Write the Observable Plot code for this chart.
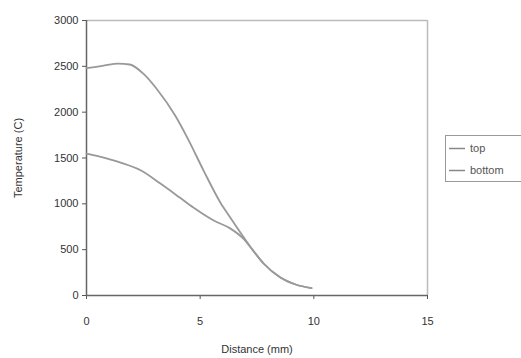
<!DOCTYPE html>
<html>
<head>
<meta charset="utf-8">
<script src="https://cdn.jsdelivr.net/npm/d3@7"></script>
<script src="https://cdn.jsdelivr.net/npm/@observablehq/plot@0.6"></script>
<style>
  html, body { margin: 0; padding: 0; background: #fff; }
  #wrap { position: relative; width: 521px; height: 358px; overflow: hidden; font-family: "Liberation Sans", Arial, sans-serif; }
  #legend { position: absolute; left: 445px; top: 135px; width: 90px; height: 47px; border: 1px solid #999; box-sizing: border-box; background: #fff; }
  .item { position: absolute; left: 0; font-size: 11px; color: #555; line-height: 12px; }
  .item svg { position: absolute; left: 3px; top: 5px; }
  .item span { position: absolute; left: 24px; top: 0; white-space: nowrap; }
  #wrap svg [aria-label$="label"] text, #wrap svg g[aria-label="x-axis label"], #wrap svg g[aria-label="y-axis label"] { fill: #333; }
</style>
</head>
<body>
<div id="wrap"></div>
<script>
const seriesNames = ["top", "bottom"];
const topX = [0, 0.7, 1.4, 1.9, 2.5, 3.1, 3.9, 4.5, 5.15, 5.9, 6.3, 6.9, 7.3, 7.79, 8.53, 9.2, 9.9];
const topY = [2480, 2505, 2530, 2520, 2420, 2250, 1963, 1690, 1363, 1010, 860, 640, 500, 349, 196, 120, 80];
const bottomX = [0, 0.5, 1.5, 2.4, 3.25, 4.1, 4.7, 5.6, 6.3, 6.9, 7.3, 7.79, 8.53, 9.2, 9.9];
const bottomY = [1549, 1520, 1450, 1363, 1221, 1069, 960, 818, 735, 620, 500, 349, 196, 120, 80];
const xTicks = [0, 5, 10, 15];
const yTicks = [0, 500, 1000, 1500, 2000, 2500, 3000];

const data = [
  ...topX.map((x, i) => ({series: seriesNames[0], x, y: topY[i]})),
  ...bottomX.map((x, i) => ({series: seriesNames[1], x, y: bottomY[i]}))
];

const chart = Plot.plot({
  width: 521,
  height: 358,
  marginLeft: 86,
  marginRight: 94,
  marginTop: 20,
  marginBottom: 63,
  style: {fontFamily: "Liberation Sans, Arial, sans-serif", fontSize: "11px", color: "#555", background: "#fff"},
  x: {domain: [0, 15], ticks: xTicks, tickFormat: "d", tickSize: 4, tickPadding: 18, label: "Distance (mm)", labelAnchor: "center", labelOffset: 57, labelArrow: "none"},
  y: {domain: [0, 3000], ticks: yTicks, tickFormat: "d", tickSize: 4, tickPadding: 4, label: "Temperature (C)", labelAnchor: "center", labelOffset: 72, labelArrow: "none"},
  marks: [
    Plot.ruleY([3000], {stroke: "#bbb", strokeWidth: 1.5}),
    Plot.ruleX([15], {stroke: "#bbb", strokeWidth: 1.5}),
    Plot.ruleX([0], {stroke: "#666", strokeWidth: 1.5}),
    Plot.ruleY([0], {stroke: "#666", strokeWidth: 1.5}),
    Plot.line(data, {x: "x", y: "y", z: "series", stroke: "#999", strokeWidth: 1.8, curve: "monotone-x"})
  ]
});

const wrap = document.getElementById("wrap");
wrap.appendChild(chart);

const legend = document.createElement("div");
legend.id = "legend";
seriesNames.forEach((name, i) => {
  const item = document.createElement("div");
  item.className = "item";
  item.style.top = (6 + i * 22) + "px";
  item.innerHTML = `<svg width="16" height="3"><line x1="0" y1="1.5" x2="16" y2="1.5" stroke="#888" stroke-width="1.5"/></svg><span>${name}</span>`;
  legend.appendChild(item);
});
wrap.appendChild(legend);
</script>
</body>
</html>
